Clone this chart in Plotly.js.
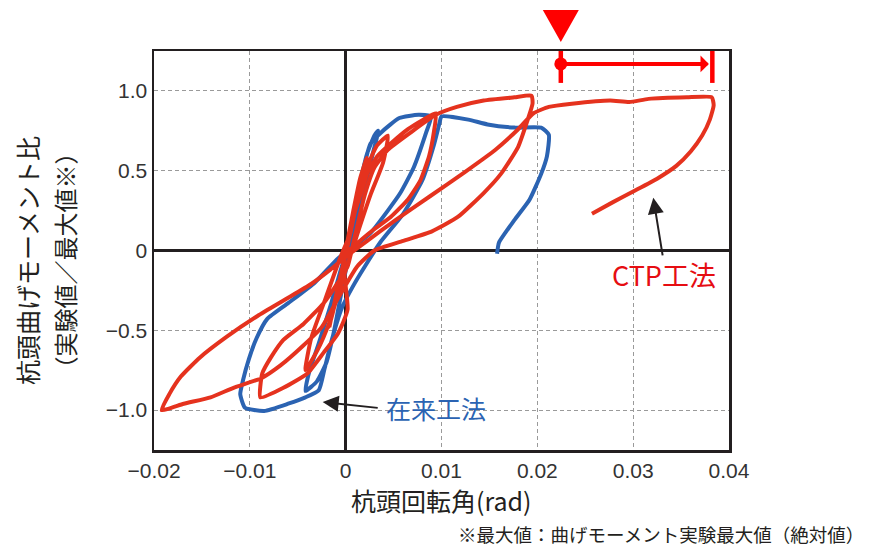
<!DOCTYPE html>
<html>
<head>
<meta charset="utf-8">
<script src="https://cdn.plot.ly/plotly-3.0.1.min.js"></script>
<style>
  html, body { margin: 0; padding: 0; background: #ffffff; }
  #chart { width: 872px; height: 547px; }
</style>
</head>
<body>
<div id="chart"></div>
<script>
// ---- Data ----
// CTP工法 (red) hysteresis path: rotation angle (rad) and moment ratio
const ctpX = [
  0.0000, 0.0008, 0.0015, 0.0022, 0.0016, 0.0006, -0.0004, -0.0011, -0.0017, -0.0010, 0.0000, 0.0010,
  0.0022, 0.0033, 0.0044, 0.0039, 0.0026, 0.0012, -0.0004, -0.0017, -0.0029, -0.0042, -0.0036, -0.0021, -0.0006,
  0.0005, 0.0008, 0.0016, 0.0023, 0.0033, 0.0047, 0.0065, 0.0081, 0.0094, 0.0092, 0.0087, 0.0078, 0.0065, 0.0047, 0.0029, 0.0013, -0.0002,
  0.0002, -0.0008, -0.0023, -0.0040, -0.0065, -0.0089, -0.0087, -0.0078, -0.0065, -0.0044, -0.0023, -0.0008, 0.0002,
  0.0010, 0.0020, 0.0030, 0.0044, 0.0068, 0.0094, 0.0116, 0.0144, 0.0176, 0.0194, 0.0195, 0.0190, 0.0180, 0.0162, 0.0144, 0.0117, 0.0090, 0.0060, 0.0030, 0.0012,
  -0.0008, -0.0025, -0.0045, -0.0068, -0.0088, -0.0117, -0.0141, -0.0169, -0.0192,
  -0.0184, -0.0172, -0.0152, -0.0124, -0.0092, -0.0064, -0.0036, -0.0016, 0.0000, 0.0020, 0.0052, 0.0088, 0.0124, 0.0156, 0.0180, 0.0196,
  0.0212, 0.0236, 0.0276, 0.0296, 0.0316, 0.0356, 0.0382, 0.0384, 0.0380, 0.0372, 0.0360, 0.0345, 0.0325, 0.0300, 0.0278, 0.0257
];
const ctpY = [
  0.00, 0.25, 0.45, 0.58, 0.42, 0.14, -0.14, -0.33, -0.48, -0.28, -0.02, 0.25,
  0.52, 0.66, 0.72, 0.55, 0.35, 0.10, -0.20, -0.45, -0.62, -0.75, -0.55, -0.30, -0.05,
  0.11, 0.21, 0.36, 0.49, 0.59, 0.67, 0.76, 0.82, 0.86, 0.74, 0.59, 0.44, 0.32, 0.21, 0.13, 0.05, -0.04,
  -0.37, -0.52, -0.64, -0.77, -0.86, -0.92, -0.77, -0.67, -0.56, -0.46, -0.33, -0.20, -0.10,
  0.10, 0.35, 0.52, 0.63, 0.74, 0.85, 0.90, 0.94, 0.96, 0.97, 0.92, 0.82, 0.65, 0.48, 0.36, 0.21, 0.12, 0.06, 0.00, -0.10,
  -0.30, -0.48, -0.60, -0.72, -0.80, -0.86, -0.92, -0.96, -1.00,
  -0.90, -0.79, -0.67, -0.54, -0.41, -0.31, -0.21, -0.12, -0.04, 0.05, 0.19, 0.34, 0.49, 0.63, 0.76, 0.86,
  0.90, 0.92, 0.94, 0.93, 0.95, 0.96, 0.96, 0.91, 0.82, 0.72, 0.62, 0.53, 0.45, 0.37, 0.30, 0.23
];

// 在来工法 (blue) hysteresis path
const convX = [
  0.0000, 0.0008, 0.0015, 0.0022, 0.0030, 0.0034, 0.0028, 0.0018, 0.0006, -0.0004, -0.0012, -0.0020, -0.0030, -0.0042, -0.0038, -0.0028, -0.0015, -0.0004,
  0.0002, 0.0013, 0.0019, 0.0026, 0.0037, 0.0056, 0.0076, 0.0089,
  0.0084, 0.0071, 0.0057, 0.0044, 0.0026, 0.0010, -0.0008, -0.0032, -0.0060, -0.0082, -0.0093, -0.0101, -0.0107, -0.0110, -0.0105, -0.0085, -0.0060, -0.0042, -0.0028,
  -0.0022, -0.0014, -0.0004, 0.0008, 0.0020, 0.0036, 0.0060, 0.0080, 0.0092, 0.0098, 0.0100,
  0.0128, 0.0148, 0.0176, 0.0204, 0.0212, 0.0210, 0.0204, 0.0192, 0.0176, 0.0160, 0.0158
];
const convY = [
  0.00, 0.20, 0.42, 0.60, 0.72, 0.75, 0.60, 0.35, 0.05, -0.25, -0.50, -0.70, -0.82, -0.88, -0.76, -0.58, -0.33, -0.10,
  0.00, 0.32, 0.52, 0.67, 0.74, 0.83, 0.85, 0.84,
  0.74, 0.52, 0.36, 0.25, 0.11, 0.03, -0.05, -0.20, -0.33, -0.43, -0.55, -0.68, -0.81, -0.90, -0.985, -1.005, -0.96, -0.92, -0.875,
  -0.74, -0.55, -0.36, -0.22, -0.10, 0.05, 0.23, 0.44, 0.66, 0.80, 0.84,
  0.82, 0.79, 0.77, 0.77, 0.725, 0.59, 0.48, 0.32, 0.19, 0.05, -0.02
];

// Axis ticks
const xTickVals = [-0.02, -0.01, 0, 0.01, 0.02, 0.03, 0.04];
const xTickText = ['\u22120.02', '\u22120.01', '0', '0.01', '0.02', '0.03', '0.04'];
const yTickVals = [-1.0, -0.5, 0, 0.5, 1.0];
const yTickText = ['\u22121.0', '\u22120.5', '0', '0.5', '1.0'];

// Range indicator above the plot (rotation angle start / end)
const rangeStartX = [0.02245];
const rangeEndX = [0.03826];

// ---- Styles ----
const RED = '#e5321e';
const BLUE = '#2b63b2';
const MARK_RED = '#ff0000';
const INK = '#231f20';
const CJK = '"Noto Sans CJK JP", "Noto Sans", sans-serif';
const LAT = '"Liberation Sans", Arial, sans-serif';
const X_RANGE = [-0.02, 0.04];
const Y_RANGE = [-1.25, 1.25];

const traces = [
  {
    x: convX, y: convY, type: 'scatter', mode: 'lines',
    line: { color: BLUE, width: 4, shape: 'spline', smoothing: 0.5 },
    hoverinfo: 'skip', showlegend: false
  },
  {
    x: ctpX, y: ctpY, type: 'scatter', mode: 'lines',
    line: { color: RED, width: 4, shape: 'spline', smoothing: 0.5 },
    hoverinfo: 'skip', showlegend: false
  },
  // vertical bars of the range indicator
  {
    x: [rangeStartX[0], rangeStartX[0], null, rangeEndX[0], rangeEndX[0]],
    y: [1.05, 1.295, null, 1.05, 1.295],
    type: 'scatter', mode: 'lines', cliponaxis: false,
    line: { color: MARK_RED, width: 4.5 }, hoverinfo: 'skip', showlegend: false
  },
  // start dot
  {
    x: rangeStartX, y: [1.169], type: 'scatter', mode: 'markers', cliponaxis: false,
    marker: { color: MARK_RED, size: 13, symbol: 'circle' }, hoverinfo: 'skip', showlegend: false
  }
];

// paper position of the range-indicator start (for the triangle, not clipped)
const triAnchorX = (rangeStartX[0] - X_RANGE[0]) / (X_RANGE[1] - X_RANGE[0]);
const triAnchorY = (1.169 - Y_RANGE[0]) / (Y_RANGE[1] - Y_RANGE[0]);

const layout = {
  width: 872, height: 547,
  margin: { l: 154, r: 143, t: 51, b: 97, pad: 0 },
  paper_bgcolor: '#ffffff', plot_bgcolor: '#ffffff',
  showlegend: false,
  xaxis: {
    range: X_RANGE, tickvals: xTickVals, ticktext: xTickText,
    showgrid: true, gridcolor: '#9a9a9a', gridwidth: 1, griddash: '4px,3px',
    zeroline: true, zerolinecolor: INK, zerolinewidth: 2.5,
    showline: true, linecolor: INK, linewidth: 2.5, mirror: true,
    ticks: '', tickfont: { family: LAT, size: 21, color: '#333333' },
    fixedrange: true
  },
  yaxis: {
    range: Y_RANGE, tickvals: yTickVals, ticktext: yTickText,
    showgrid: true, gridcolor: '#9a9a9a', gridwidth: 1, griddash: '4px,3px',
    zeroline: true, zerolinecolor: INK, zerolinewidth: 2.5,
    showline: true, linecolor: INK, linewidth: 2.5, mirror: true,
    ticks: '', tickfont: { family: LAT, size: 21, color: '#333333' },
    fixedrange: true
  },
  shapes: [
    // downward triangle above the start of the range indicator
    {
      type: 'path', xref: 'paper', yref: 'paper', xsizemode: 'pixel', ysizemode: 'pixel',
      xanchor: triAnchorX, yanchor: triAnchorY,
      path: 'M-18,54 L18,54 L0,22 Z',
      fillcolor: MARK_RED, line: { width: 0 }, layer: 'above'
    }
  ],
  annotations: [
    // range arrow
    {
      x: 0.0379, y: 1.169, ax: rangeStartX[0], ay: 1.169,
      xref: 'x', yref: 'y', axref: 'x', ayref: 'y',
      text: '', showarrow: true, arrowhead: 1, arrowsize: 0.7, arrowwidth: 4,
      arrowcolor: MARK_RED, standoff: 0, startstandoff: 0
    },
    // CTP label and arrow
    {
      x: 0.0332, y: -0.15, xref: 'x', yref: 'y', text: 'CTP工法', showarrow: false,
      font: { family: CJK, size: 27, color: '#e60d12' }, xanchor: 'center', yanchor: 'middle'
    },
    {
      x: 0.0321, y: 0.33, ax: 0.0331, ay: -0.04,
      xref: 'x', yref: 'y', axref: 'x', ayref: 'y',
      text: '', showarrow: true, arrowhead: 2, arrowsize: 1.6, arrowwidth: 2,
      arrowcolor: INK, standoff: 0
    },
    // 在来工法 label and arrow
    {
      x: 0.0094, y: -0.985, xref: 'x', yref: 'y', text: '在来工法', showarrow: false,
      font: { family: CJK, size: 25, color: BLUE }, xanchor: 'center', yanchor: 'middle'
    },
    {
      x: -0.0024, y: -0.95, ax: 0.0035, ay: -0.987,
      xref: 'x', yref: 'y', axref: 'x', ayref: 'y',
      text: '', showarrow: true, arrowhead: 2, arrowsize: 1.6, arrowwidth: 2,
      arrowcolor: INK, standoff: 0
    },
    // y axis title (two lines)
    {
      x: -0.2209, y: 0.476, xref: 'paper', yref: 'paper', text: '杭頭曲げモーメント比',
      textangle: -90, showarrow: false, xanchor: 'center', yanchor: 'middle',
      font: { family: CJK, size: 25, color: INK }
    },
    {
      x: -0.156, y: 0.476, xref: 'paper', yref: 'paper', text: '（実験値／最大値※）',
      textangle: -90, showarrow: false, xanchor: 'center', yanchor: 'middle',
      font: { family: CJK, size: 24, color: INK }
    },
    // x axis title
    {
      x: 0.5, y: -0.125, xref: 'paper', yref: 'paper', text: '杭頭回転角(rad)',
      showarrow: false, xanchor: 'center', yanchor: 'middle',
      font: { family: CJK, size: 25, color: INK }
    },
    // footnote
    {
      x: (866 - 154) / 575, y: (450 - 534) / 399, xref: 'paper', yref: 'paper',
      text: '※最大値：曲げモーメント実験最大値（絶対値）',
      showarrow: false, xanchor: 'right', yanchor: 'middle',
      font: { family: CJK, size: 18.5, color: INK }
    }
  ]
};

Plotly.newPlot('chart', traces, layout, { displayModeBar: false, staticPlot: true });
</script>
</body>
</html>
